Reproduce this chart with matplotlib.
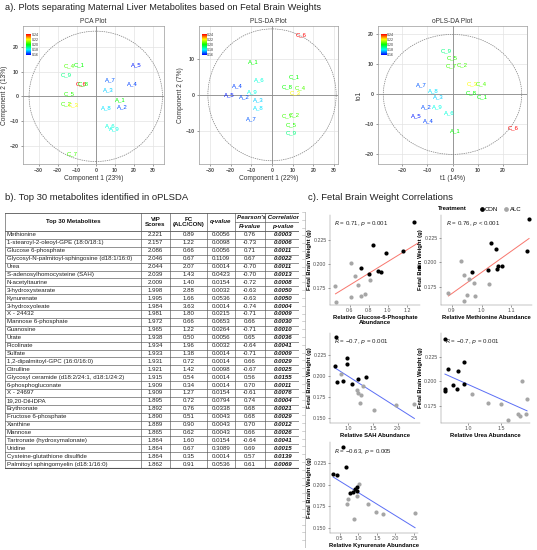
import numpy as np
import matplotlib.pyplot as plt
from matplotlib.colors import LinearSegmentedColormap, Normalize
from matplotlib.patches import Ellipse
from matplotlib.lines import Line2D

plt.rcParams['font.family'] = ['Liberation Sans', 'DejaVu Sans']

# ---------------- panel a : score plots ----------------
samples = ['C_1', 'C_2', 'C_3', 'C_4', 'C_5', 'C_6', 'C_7', 'C_8', 'C_9',
           'A_1', 'A_2', 'A_3', 'A_4', 'A_5', 'A_6', 'A_7', 'A_8', 'A_9']
brain_wt = [0.200, 0.205, 0.220, 0.206, 0.203, 0.244, 0.205, 0.200, 0.190,
            0.200, 0.166, 0.176, 0.165, 0.162, 0.183, 0.167, 0.178, 0.182]

pca_x = [-8.6, -15.5, -12.0, -13.7, -14.1, -7.6, -12.6, -6.6, -15.5,
         12.7, 13.9, 6.4, 19.1, 21.3, 7.6, 7.6, 5.4, 9.6]
pca_y = [12.8, -2.9, -3.6, 12.4, 1.0, 4.9, -23.3, 5.0, 8.6,
         -1.5, -4.3, 2.7, 4.9, 12.8, -11.8, 6.8, -4.8, -13.2]

pls_x = [10.6, 10.6, 11.0, 13.7, 9.5, 14.2, 7.4, 7.4, 9.5,
         -8.9, -13.6, -6.5, -16.8, -20.6, -6.0, -10.0, -6.5, -9.5]
pls_y = [5.1, -5.4, 0.5, 2.0, -8.2, 16.5, -5.9, 2.2, -10.4,
         9.1, -0.5, -1.4, 2.6, 0.0, 4.2, -6.5, -3.5, 0.9]

opls_x = [12.0, 3.7, 8.0, 11.3, 0.0, 24.0, -0.3, 7.3, -2.4,
          1.3, -10.4, -5.6, -9.6, -14.4, -1.1, -12.3, -7.7, -6.0]
opls_y = [-0.7, 10.0, 3.5, 3.4, 12.2, -11.1, 9.6, 0.6, 14.5,
          -12.3, -4.1, -0.7, -8.8, -7.3, -6.1, 3.2, 1.3, -4.1]

# ---------------- panel b : table ----------------
met_names = ['Methionine', '1-stearoyl-2-oleoyl-GPE (18:0/18:1)', 'Glucose 6-phosphate',
             'Glycosyl-N-palmitoyl-sphingosine (d18:1/16:0)', 'Urea',
             'S-adenosylhomocysteine (SAH)', 'N-acetyltaurine', '3-hydroxystearate',
             'Kynurenate', '3-hydroxyoleate', 'X - 24432', 'Mannose 6-phosphate',
             'Guanosine', 'Urate', 'Picolinate', 'Sulfate',
             '1,2-dipalmitoyl-GPC (16:0/16:0)', 'Citrulline',
             'Glycosyl ceramide (d18:2/24:1, d18:1/24:2)', '6-phosphogluconate',
             'X - 24697', '19,20-DiHDPA', 'Erythronate', 'Fructose 6-phosphate',
             'Xanthine', 'Mannose', 'Tartronate (hydroxymalonate)', 'Uridine',
             'Cysteine-glutathione disulfide', 'Palmitoyl sphingomyelin (d18:1/16:0)']
vip = ['2.221', '2.157', '2.086', '2.046', '2.044', '2.039', '2.009', '1.998', '1.995', '1.984',
       '1.981', '1.972', '1.965', '1.938', '1.934', '1.933', '1.931', '1.921', '1.915', '1.909',
       '1.909', '1.895', '1.892', '1.890', '1.889', '1.865', '1.864', '1.864', '1.864', '1.862']
fc = ['0.89', '1.22', '0.66', '0.67', '2.07', '1.43', '1.40', '2.88', '1.66', '3.63',
      '1.80', '0.66', '1.22', '0.50', '1.96', '1.38', '0.72', '1.42', '0.54', '0.34',
      '1.27', '0.72', '0.76', '0.51', '0.90', '0.62', '1.60', '0.67', '0.35', '0.91']
qval = ['0.0056', '0.0098', '0.0056', '0.1109', '0.0014', '0.0423', '0.0154', '0.0032', '0.0536', '0.0014',
        '0.0215', '0.0653', '0.0264', '0.0056', '0.0032', '0.0014', '0.0014', '0.0098', '0.0014', '0.0014',
        '0.0154', '0.0794', '0.0338', '0.0043', '0.0043', '0.0043', '0.0154', '0.3089', '0.0014', '0.0536']
rval = ['0.76', '-0.73', '0.71', '0.67', '-0.70', '-0.70', '-0.72', '-0.63', '-0.63', '-0.74',
        '-0.71', '0.66', '-0.71', '0.65', '-0.64', '-0.71', '0.66', '-0.67', '0.56', '0.70',
        '-0.61', '0.74', '0.68', '0.68', '0.70', '0.66', '-0.64', '0.69', '0.57', '0.61']
pval = ['0.0003', '0.0006', '0.0011', '0.0022', '0.0011', '0.0013', '0.0008', '0.0050', '0.0050', '0.0004',
        '0.0009', '0.0030', '0.0010', '0.0036', '0.0041', '0.0009', '0.0029', '0.0025', '0.0155', '0.0011',
        '0.0076', '0.0004', '0.0021', '0.0029', '0.0012', '0.0026', '0.0041', '0.0015', '0.0139', '0.0069']

# ---------------- panel c : correlations (9 CON then 9 ALC) ----------------
treatment = ['CON', 'CON', 'CON', 'CON', 'CON', 'CON', 'CON', 'CON', 'CON',
             'ALC', 'ALC', 'ALC', 'ALC', 'ALC', 'ALC', 'ALC', 'ALC', 'ALC']
g6p_x = [1.275, 0.841, 0.985, 1.162, 1.326, 0.721, 0.797, 0.892, 0.933,
         0.608, 0.653, 0.684, 0.817, 0.448, 0.608, 0.721, 0.762, 0.454]
g6p_y = [0.2442, 0.2197, 0.2109, 0.2130, 0.1966, 0.1959, 0.1898, 0.1926, 0.1915,
         0.2007, 0.1870, 0.1779, 0.1827, 0.1768, 0.1650, 0.1666, 0.1681, 0.1602]
met_x = [1.160, 1.030, 1.047, 1.154, 0.966, 1.021, 1.056, 1.069, 1.052,
         0.932, 0.939, 0.958, 0.974, 1.024, 0.888, 0.941, 0.977, 0.950]
met_y = [0.2442, 0.2202, 0.2135, 0.2112, 0.1902, 0.1925, 0.1962, 0.1968, 0.1935,
         0.2012, 0.1875, 0.1835, 0.1785, 0.1775, 0.1685, 0.1608, 0.1658, 0.1665]
sah_x = [0.749, 0.723, 0.769, 0.966, 0.980, 0.901, 1.065, 1.198, 1.362,
         0.848, 1.296, 1.178, 1.249, 1.229, 1.526, 1.955, 2.336, 1.200]
sah_y = [0.2467, 0.2123, 0.1926, 0.2218, 0.2143, 0.1942, 0.1906, 0.1966, 0.1981,
         0.2021, 0.1874, 0.1835, 0.1776, 0.1678, 0.1598, 0.1649, 0.1669, 0.1800]
urea_x = [0.638, 0.680, 0.638, 0.638, 0.766, 0.828, 0.843, 0.931, 0.935,
          1.06, 1.30, 1.50, 1.82, 1.90, 1.61, 1.76, 1.79, 1.88]
urea_y = [0.2425, 0.2122, 0.1919, 0.1899, 0.1965, 0.1925, 0.2105, 0.2193, 0.1975,
          0.1870, 0.1780, 0.1770, 0.2007, 0.1827, 0.1608, 0.1673, 0.1654, 0.1673]
kyn_x = [0.57, 0.66, 0.32, 0.41, 0.77, 0.86, 0.91, 0.95, 0.97,
         1.02, 0.97, 0.72, 0.68, 1.25, 1.47, 1.67, 0.89, 2.53]
kyn_y = [0.2446, 0.2203, 0.2131, 0.2113, 0.1902, 0.1921, 0.1955, 0.1970, 0.1932,
         0.2015, 0.1876, 0.1838, 0.1782, 0.1775, 0.1680, 0.1658, 0.1601, 0.1669]

W, H = 537, 550
fig = plt.figure(figsize=(W / 100, H / 100), dpi=100)


def add_ax(l, t, r, b):
    # pixel box -> figure fraction
    return fig.add_axes([l / W, 1 - b / H, (r - l) / W, (b - t) / H])


cmap = LinearSegmentedColormap.from_list('wt', ['#0000ff', '#00ffff', '#00ff00', '#ffff00', '#ff0000'])
norm = Normalize(0.16, 0.24)
axgrey = '#4d4d4d'


def score_plot(box, xs, ys, title, xlab, ylab, xlim, ylim, xticks, yticks, ell):
    ax = add_ax(*box)
    ax.set_xlim(xlim)
    ax.set_ylim(ylim)
    ax.set_xticks(xticks)
    ax.set_yticks(yticks)
    ax.grid(color='#e3e3e3', lw=0.5)
    ax.set_axisbelow(True)
    ax.axhline(0, color='#8a8a8a', lw=0.6, zorder=1)
    ax.axvline(0, color='#8a8a8a', lw=0.6, zorder=1)
    ax.add_patch(Ellipse((0, 0), 2 * ell[0], 2 * ell[1], fill=False,
                         ls=(0, (2, 1.2)), lw=0.5, ec='#808080'))
    for s, x, y, w in zip(samples, xs, ys, brain_wt):
        ax.text(x, y, s, color=cmap(norm(w)), fontsize=4.3, ha='center', va='center')
    ax.tick_params(labelsize=3.8, length=1.5, width=0.4, pad=1.5, colors=axgrey)
    for lab in ax.get_xticklabels() + ax.get_yticklabels():
        lab.set_fontweight('bold')
    for sp in ax.spines.values():
        sp.set_color('#9a9a9a')
        sp.set_linewidth(0.5)
    ax.set_title(title, fontsize=4.8, pad=2, color='#333333')
    ax.set_xlabel(xlab, fontsize=4.8, labelpad=1.5, color='#333333')
    ax.set_ylabel(ylab, fontsize=4.8, labelpad=1, color='#333333')
    # colour key
    cax = ax.inset_axes([0.02, 0.79, 0.035, 0.15])
    cax.imshow(np.linspace(1, 0, 64)[:, None], aspect='auto', cmap=cmap,
               extent=[0, 1, 0.16, 0.24])
    cax.set_xticks([])
    cax.yaxis.tick_right()
    cax.set_yticks([0.16, 0.18, 0.20, 0.22, 0.24])
    cax.set_yticklabels(['0.16', '0.18', '0.20', '0.22', '0.24'])
    cax.set_ylim(0.16, 0.24)
    cax.tick_params(labelsize=2.6, length=0, pad=0.5, colors='#333333')
    for sp in cax.spines.values():
        sp.set_visible(False)
    return ax


fig.text(5 / W, 1 - 8 / H, 'a). Plots separating Maternal Liver Metabolites based on Fetal Brain Weights',
         fontsize=6.7, va='center', color='#222222')

score_plot((23, 26, 164, 164), pca_x, pca_y, 'PCA Plot', 'Component 1 (23%)', 'Component 2 (13%)',
           (-38.2, 35.8), (-27.5, 28.6), [-30, -20, -10, 0, 10, 20, 30], [-20, -10, 0, 10, 20],
           (35, 26.5))
score_plot((199, 26, 338, 164), pls_x, pls_y, 'PLS-DA Plot', 'Component 1 (22%)', 'Component 2 (7%)',
           (-35.3, 31.9), (-19.1, 19.0), [-30, -20, -10, 0, 10, 20, 30], [-10, 0, 10],
           (31, 18.2))
score_plot((378, 26, 527, 164), opls_x, opls_y, 'oPLS-DA Plot', 't1 (14%)', 'to1',
           (-29.6, 29.6), (-23.2, 22.8), [-20, -10, 0, 10, 20], [-20, -10, 0, 10, 20],
           (27.5, 20))

# ---------------- table ----------------
fig.text(5 / W, 1 - 198 / H, 'b). Top 30 metabolites identified in oPLSDA',
         fontsize=6.8, va='center', color='#222222')

tl, tt, tr, tb = 5, 213, 299, 469
tax = add_ax(tl, tt, tr, tb)
tax.set_xlim(tl, tr)
tax.set_ylim(tb, tt)
tax.axis('off')
col_edges = [5, 141, 170, 207, 235, 265, 310]
head_b = 231
row_h = (tb - 1 - head_b) / len(met_names)
lc = '#555555'
fs_t = 4.4

for xe in col_edges:
    tax.plot([xe, xe], [tt, tb - 1], color=lc, lw=0.45, clip_on=True)
tax.plot([tl, col_edges[-1]], [tt, tt], color=lc, lw=0.6)
tax.plot([tl, col_edges[-1]], [head_b, head_b], color=lc, lw=0.6)
tax.plot([col_edges[4], col_edges[-1]], [222, 222], color=lc, lw=0.45)
for i in range(len(met_names)):
    yb = head_b + (i + 1) * row_h
    tax.plot([tl, col_edges[-1]], [yb, yb], color=lc, lw=0.45 if i < len(met_names) - 1 else 0.8)

tkw = dict(fontsize=fs_t, fontweight='bold', ha='center', va='center', color='#111111', clip_on=True)
tax.text((col_edges[0] + col_edges[1]) / 2, 222, 'Top 30 Metabolites', **tkw)
tax.text((col_edges[1] + col_edges[2]) / 2, 222, 'VIP\nScores', linespacing=1.15, **tkw)
tax.text((col_edges[2] + col_edges[3]) / 2, 222, 'FC\n(ALC/CON)', linespacing=1.15, **tkw)
tax.text((col_edges[3] + col_edges[4]) / 2, 222, 'q-value', style='italic', **tkw)
tax.text(col_edges[4] + 2, 217.5, "Pearson's Correlation", style='italic', fontsize=fs_t,
         fontweight='bold', ha='left', va='center', color='#111111', clip_on=True)
tax.text((col_edges[4] + col_edges[5]) / 2, 226.7, 'R-value', style='italic', **tkw)
tax.text(283, 226.7, 'p-value', style='italic', **tkw)

for i, name in enumerate(met_names):
    yc = head_b + (i + 0.5) * row_h
    tax.text(tl + 1.5, yc, name, fontsize=fs_t, ha='left', va='center', color='#222222')
    tax.text((col_edges[1] + col_edges[2]) / 2, yc, vip[i], fontsize=fs_t, ha='center', va='center', color='#222222')
    tax.text((col_edges[2] + col_edges[3]) / 2, yc, fc[i], fontsize=fs_t, ha='center', va='center', color='#222222')
    tax.text((col_edges[3] + col_edges[4]) / 2, yc, qval[i], fontsize=fs_t, ha='center', va='center', color='#222222')
    tax.text((col_edges[4] + col_edges[5]) / 2, yc, rval[i], fontsize=fs_t, ha='center', va='center', color='#222222')
    tax.text(283, yc, pval[i], fontsize=fs_t, ha='center', va='center', color='#111111',
             fontweight='bold', style='italic')

# ---------------- panel c ----------------
fig.text(308 / W, 1 - 198 / H, 'c). Fetal Brain Weight Correlations',
         fontsize=6.8, va='center', color='#222222')
fig.text(452 / W, 1 - 209 / H, 'Treatment', fontsize=4.3, fontweight='bold', ha='center', va='center')
handles = [Line2D([], [], ls='', marker='o', ms=2.4, color='black'),
           Line2D([], [], ls='', marker='o', ms=2.4, color='#a6a6a6')]
fig.legend(handles, ['CON', 'ALC'], ncol=2, frameon=False, fontsize=4.3,
           loc='center', bbox_to_anchor=(500 / W, 1 - 209 / H), handletextpad=0.1,
           columnspacing=0.8, handlelength=1.0, borderpad=0)

# thin ruler line at the left edge of panel c
rax = add_ax(300, 212, 306, 548)
rax.set_xlim(0, 1)
rax.set_ylim(0, 1)
rax.axis('off')
rax.plot([0.85, 0.85], [0, 1], color='#b0b0b0', lw=0.5)
for yy in np.linspace(0, 1, 44):
    rax.plot([0.35, 0.85], [yy, yy], color='#b0b0b0', lw=0.4)


def corr_plot(box, xv, yv, xlab, rtxt, lcol, xlim, ylim, xticks, yticks):
    ax = add_ax(*box)
    xv = np.array(xv)
    yv = np.array(yv)
    grp = np.array(treatment)
    ax.scatter(xv[grp == 'ALC'], yv[grp == 'ALC'], s=9, color='#a6a6a6', lw=0, zorder=3)
    ax.scatter(xv[grp == 'CON'], yv[grp == 'CON'], s=9, color='black', lw=0, zorder=3)
    k, c0 = np.polyfit(xv, yv, 1)
    xx = np.array([xv.min(), xv.max()])
    ax.plot(xx, k * xx + c0, color=lcol, lw=0.7, zorder=2)
    ax.set_xlim(xlim)
    ax.set_ylim(ylim)
    ax.set_xticks(xticks)
    ax.set_yticks(yticks)
    ax.set_yticklabels(['%.3f' % v for v in yticks])
    for sp in ['top', 'right']:
        ax.spines[sp].set_visible(False)
    for sp in ['left', 'bottom']:
        ax.spines[sp].set_color('#888888')
        ax.spines[sp].set_linewidth(0.35)
    ax.tick_params(labelsize=3.8, length=1.5, width=0.4, pad=1, colors='#4d4d4d')
    ax.set_xlabel(xlab, fontsize=4.2, fontweight='bold', labelpad=1, linespacing=1.0)
    ax.set_ylabel('Fetal Brain Weight (g)', fontsize=4.2, fontweight='bold', labelpad=1)
    ax.text(0.05, 0.9, rtxt, transform=ax.transAxes, fontsize=4.4, color='#222222', va='center')
    return ax


pos_col = '#f8766d'
neg_col = '#5b6ef5'
corr_plot((330, 215, 420, 305), g6p_x, g6p_y, 'Relative Glucose-6-Phosphate\nAbundance',
          r'$\it{R}$ = 0.71, $\it{p}$ = 0.001', pos_col,
          (0.39, 1.34), (0.157, 0.251), [0.6, 0.8, 1.0, 1.2], [0.175, 0.2, 0.225])
corr_plot((441, 215, 532, 305), met_x, met_y, 'Relative Methionine Abundance',
          r'$\it{R}$ = 0.76, $\it{p}$ < 0.001', pos_col,
          (0.863, 1.17), (0.1565, 0.2485), [0.9, 1.0, 1.1], [0.175, 0.2, 0.225])
corr_plot((330, 333, 420, 423), sah_x, sah_y, 'Relative SAH Abundance',
          r'$\it{R}$ = −0.7, $\it{p}$ = 0.001', neg_col,
          (0.63, 2.45), (0.144, 0.251), [1.0, 1.5, 2.0], [0.15, 0.175, 0.2, 0.225])
corr_plot((441, 333, 530, 423), urea_x, urea_y, 'Relative Urea Abundance',
          r'$\it{R}$ = −0.7, $\it{p}$ = 0.001', neg_col,
          (0.577, 1.946), (0.158, 0.249), [1.0, 1.5], [0.175, 0.2, 0.225])
corr_plot((330, 442, 418, 533), kyn_x, kyn_y, 'Relative Kynurenate Abundance',
          r'$\it{R}$ = −0.63, $\it{p}$ = 0.005', neg_col,
          (0.23, 2.61), (0.144, 0.2499), [0.5, 1.0, 1.5, 2.0, 2.5], [0.15, 0.175, 0.2, 0.225])

fig.savefig('out.png', dpi=100)
